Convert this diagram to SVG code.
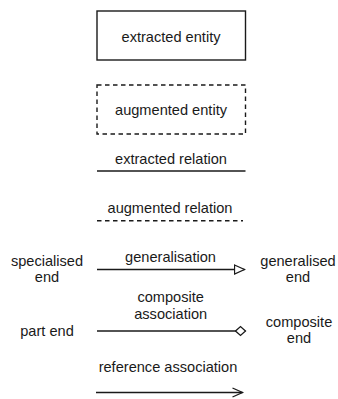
<svg xmlns="http://www.w3.org/2000/svg" width="338" height="399" viewBox="0 0 338 399">
<style>
text{font-family:"Liberation Sans",Arial,sans-serif;font-size:14.6px;fill:#1a1a1a;text-anchor:middle}
.box{fill:#fff;stroke:#1a1a1a;stroke-width:1.4}
.dash{stroke-dasharray:4.5 3.5}
.ln{stroke:#1a1a1a;stroke-width:1.4;fill:none}
</style>
<defs>
<marker id="tri" markerUnits="userSpaceOnUse" markerWidth="12" markerHeight="12" refX="10" refY="5" orient="auto" viewBox="-1 -1 12 12">
<path d="M0,0.5 L10,5 L0,9.5 Z" fill="#fff" stroke="#1a1a1a" stroke-width="1.3"/>
</marker>
<marker id="dia" markerUnits="userSpaceOnUse" markerWidth="13" markerHeight="12" refX="10" refY="5" orient="auto" viewBox="-1 -1 13 12">
<path d="M0,5 L5,0.5 L10,5 L5,9.5 Z" fill="#fff" stroke="#1a1a1a" stroke-width="1.3"/>
</marker>
<marker id="open" markerUnits="userSpaceOnUse" markerWidth="13" markerHeight="12" refX="10" refY="5" orient="auto" viewBox="-1 -1 13 12">
<path d="M0,0.5 L10,5 L0,9.5" fill="none" stroke="#1a1a1a" stroke-width="1.3"/>
</marker>
</defs>
<g id="extracted-entity">
<rect class="box" x="97" y="11" width="148.5" height="49"/>
<text x="171" y="41.5">extracted entity</text>
</g>
<g id="augmented-entity">
<rect class="box dash" x="97" y="85" width="148.5" height="49"/>
<text x="171" y="115">augmented entity</text>
</g>
<g id="specialised-end"><text x="47" y="265.7">specialised</text><text x="47" y="282.3">end</text></g>
<g id="generalised-end"><text x="298" y="265.7">generalised</text><text x="298" y="282.3">end</text></g>
<g id="part-end"><text x="47" y="336">part end</text></g>
<g id="composite-end"><text x="299" y="327.3">composite</text><text x="299" y="342.7">end</text></g>
<g id="connectors">
<text x="171" y="164">extracted relation</text>
<line class="ln" x1="97" y1="171" x2="245.5" y2="171"/>
<text x="170" y="212.7">augmented relation</text>
<line class="ln dash" x1="97" y1="220.7" x2="243" y2="220.7"/>
<text x="170.5" y="262.3">generalisation</text>
<line class="ln" x1="97" y1="269.5" x2="244.5" y2="269.5" marker-end="url(#tri)"/>
<text x="170.7" y="301.7">composite</text>
<text x="170.7" y="319">association</text>
<line class="ln" x1="97" y1="331" x2="245.5" y2="331" marker-end="url(#dia)"/>
<text x="168" y="372">reference association</text>
<line class="ln" x1="96" y1="392.5" x2="242.5" y2="392.5" marker-end="url(#open)"/>
</g>
</svg>
